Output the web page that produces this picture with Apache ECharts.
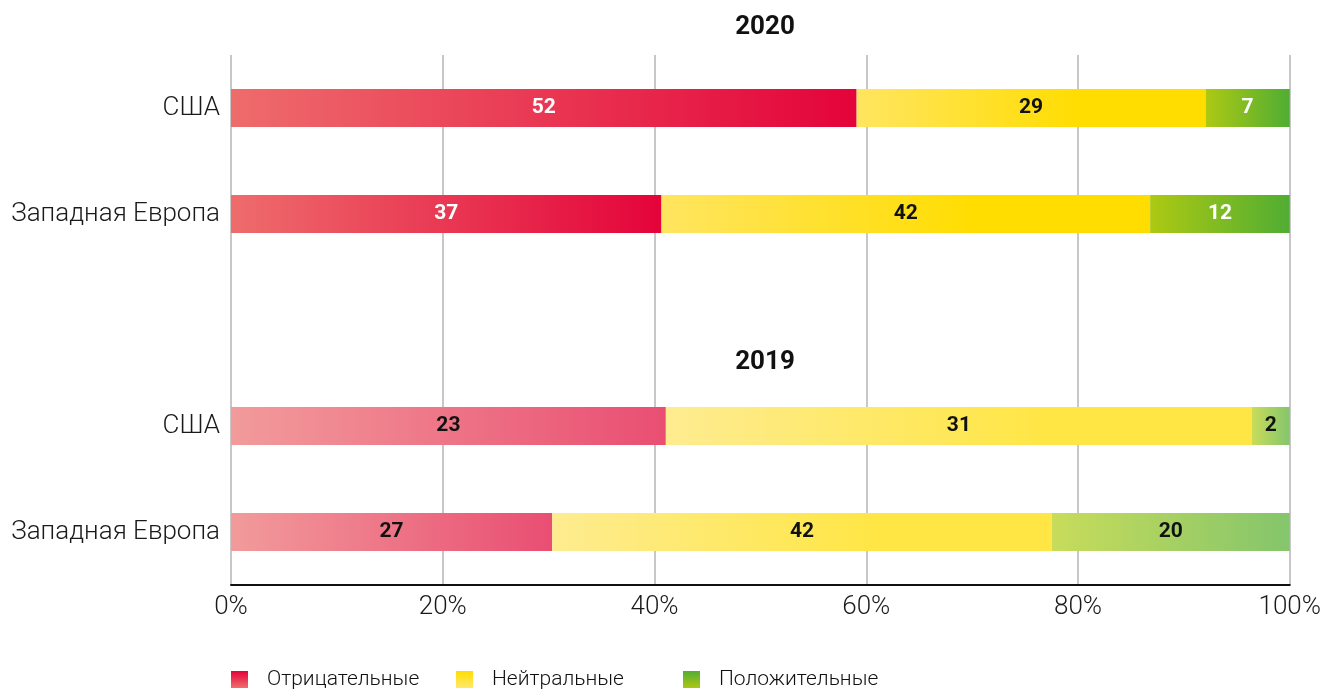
<!DOCTYPE html>
<html>
<head>
<meta charset="utf-8">
<script src="https://cdn.jsdelivr.net/npm/echarts@6/dist/echarts.min.js"></script>
<style>
  html, body { margin: 0; padding: 0; background: #fff; }
  #chart { width: 1324px; height: 689px; }
</style>
</head>
<body>
<div id="chart"></div>
<script>
// rows: 2020 block, empty spacer, 2019 block
const categories = ['США', 'Западная Европа', '', 'США', 'Западная Европа'];
const rowYear = ['2020', '2020', '', '2019', '2019'];
const years = ['2020', '2019'];
const seriesNames = ['Отрицательные', 'Нейтральные', 'Положительные'];
const negative = [52, 37, null, 23, 27];
const neutral = [29, 42, null, 31, 42];
const positive = [7, 12, null, 2, 20];
const xTicks = [0, 20, 40, 60, 80, 100];

const FONT = 'Roboto';

function grad(a, b) {
    return new echarts.graphic.LinearGradient(0, 0, 1, 0, [
        { offset: 0, color: a },
        { offset: 1, color: b }
    ]);
}
function gradYellow(a, b) {
    return new echarts.graphic.LinearGradient(0, 0, 1, 0, [
        { offset: 0, color: a },
        { offset: 0.65, color: b },
        { offset: 1, color: b }
    ]);
}
function vgrad(top, bottom) {
    return new echarts.graphic.LinearGradient(0, 0, 0, 1, [
        { offset: 0, color: top },
        { offset: 1, color: bottom }
    ]);
}

// couleurs par année
const colors = {
    '2020': [grad('#ee6c6c', '#e4033a'), gradYellow('#ffe560', '#ffdd00'), grad('#adc913', '#50ad33')],
    '2019': [grad('#f29b9b', '#e94e72'), gradYellow('#feec90', '#ffe645'), grad('#c8dc5a', '#84c56c')]
};
const labelColors = {
    '2020': ['#ffffff', '#111111', '#ffffff'],
    '2019': ['#111111', '#111111', '#111111']
};

const raw = [negative, neutral, positive];
const totals = categories.map((c, i) => {
    if (negative[i] == null) return null;
    return negative[i] + neutral[i] + positive[i];
});

function buildData(k) {
    return raw[k].map((v, i) => {
        if (v == null) return null;
        const y = rowYear[i];
        return {
            value: v / totals[i] * 100,
            raw: v,
            itemStyle: { color: colors[y][k] },
            label: { color: labelColors[y][k] }
        };
    });
}

const series = seriesNames.map((name, k) => ({
    name: name,
    type: 'bar',
    stack: 'total',
    barWidth: 38,
    data: buildData(k),
    label: {
        show: true,
        position: 'inside',
        fontFamily: FONT,
        fontWeight: 700,
        fontSize: 21,
        formatter: p => p.data ? p.data.raw : ''
    },
    emphasis: { disabled: true }
}));

const legendIcons = [
    vgrad('#e4033a', '#ef6e6e'),
    vgrad('#ffdd00', '#ffe86a'),
    vgrad('#52ad32', '#acc814')
];
const legendLeft = [231, 456, 683];

const option = {
    animation: false,
    title: [
        {
            text: years[0], left: 760, top: 9, textAlign: 'center',
            textStyle: { fontFamily: FONT, fontWeight: 700, fontSize: 26, color: '#111' }
        },
        {
            text: years[1], left: 760, top: 344, textAlign: 'center',
            textStyle: { fontFamily: FONT, fontWeight: 700, fontSize: 26, color: '#111' }
        }
    ],
    legend: seriesNames.map((n, k) => ({
        left: legendLeft[k],
        top: 669,
        padding: 0,
        itemWidth: 17,
        itemHeight: 17,
        icon: 'rect',
        selectedMode: false,
        data: [{ name: n, itemStyle: { color: legendIcons[k] } }],
        textStyle: { fontFamily: FONT, fontWeight: 300, fontSize: 21, color: '#111', padding: [2, 0, 0, 14] }
    })),
    grid: { left: 231, right: 34, top: 55, bottom: 104 },
    xAxis: {
        type: 'value',
        min: xTicks[0],
        max: xTicks[xTicks.length - 1],
        interval: 20,
        axisLabel: {
            formatter: '{value}%',
            fontFamily: FONT,
            fontWeight: 300,
            fontSize: 26,
            color: '#1a1a1a',
            margin: 9
        },
        axisLine: { show: true, lineStyle: { color: '#111', width: 2 } },
        axisTick: { show: false },
        splitLine: { show: true, lineStyle: { color: '#b5b5b5', width: 1.5 } }
    },
    yAxis: {
        type: 'category',
        inverse: true,
        data: categories,
        axisLabel: {
            fontFamily: FONT,
            fontWeight: 300,
            fontSize: 26,
            color: '#1a1a1a',
            margin: 11,
            padding: [7, 0, 0, 0]
        },
        axisLine: { show: false },
        axisTick: { show: false },
        splitLine: { show: false }
    },
    series: series
};

const myChart = echarts.init(document.getElementById('chart'), null, { renderer: 'canvas' });
myChart.setOption(option);
window.addEventListener('resize', myChart.resize);
</script>
</body>
</html>
